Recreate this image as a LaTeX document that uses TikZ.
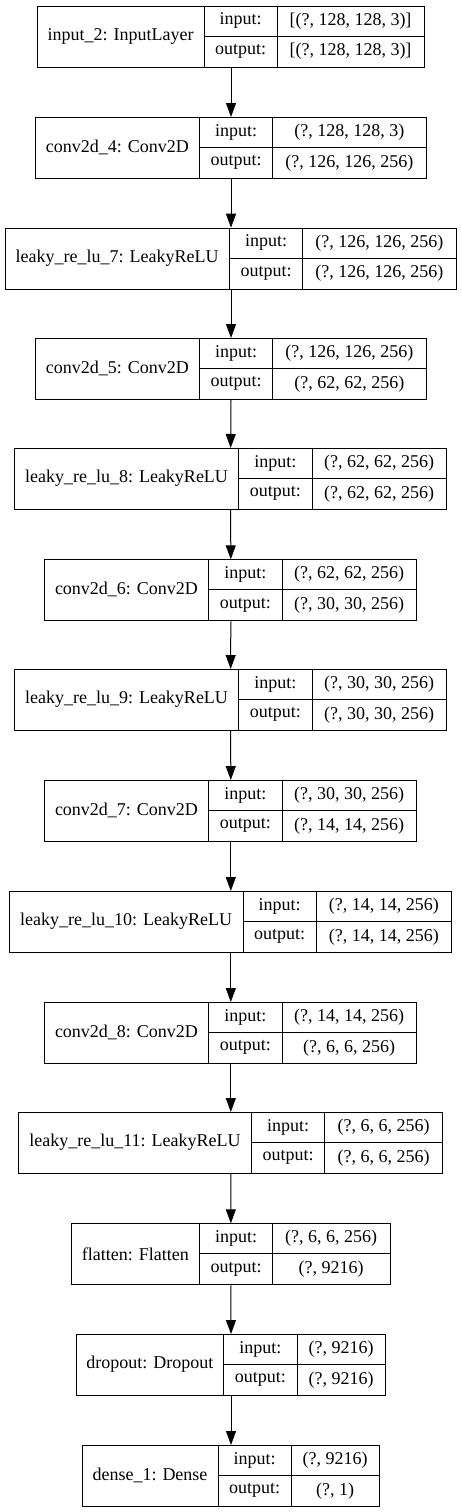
\documentclass[tikz,border=0pt]{standalone}
\usepackage{fontspec}
\setmainfont{Liberation Serif}
\usetikzlibrary{arrows.meta}
\tikzset{
  layerbox/.style={draw=black, line width=1pt, rectangle, inner sep=0pt, anchor=north west, minimum height=61pt},
  celltext/.style={inner sep=0pt, font=\fontsize{18}{20}\selectfont, text=black},
  divline/.style={draw=black, line width=1pt},
  flow/.style={draw=black, line width=1pt, -{Triangle[width=10pt,length=14pt]}}
}
% #1 name, #2 top, #3 left, #4 d1, #5 d2, #6 right, #7 label, #8 input, #9 output
\newcommand\kerasLayer[9]{%
  \node[layerbox, minimum width={#6pt-#3pt}] (#1) at (#3,#2) {};
  \draw[divline] (#4,#2) -- (#4,{#2+61});
  \draw[divline] (#5,#2) -- (#5,{#2+61});
  \draw[divline] (#4,{#2+30.5}) -- (#6,{#2+30.5});
  \node[celltext] (#1-name) at ({(#3+#4)/2},{#2+30.5}) {#7};
  \node[celltext] (#1-inl) at ({(#4+#5)/2},{#2+15.25}) {input:};
  \node[celltext] (#1-outl) at ({(#4+#5)/2},{#2+45.75}) {output:};
  \node[celltext] (#1-inv) at ({(#5+#6)/2},{#2+15.25}) {#8};
  \node[celltext] (#1-outv) at ({(#5+#6)/2},{#2+45.75}) {#9};
}
\begin{document}
\begin{tikzpicture}[x=1pt,y=-1pt]
\useasboundingbox (0,0) rectangle (461,1512);
\kerasLayer{b1}{5.7}{37}{204}{277}{424}{input\_2: InputLayer}{[(?, 128, 128, 3)]}{[(?, 128, 128, 3)]}
\kerasLayer{b2}{117}{35}{199.7}{272.7}{426}{conv2d\_4: Conv2D}{(?, 128, 128, 3)}{(?, 126, 126, 256)}
\kerasLayer{b3}{227.7}{5}{229.3}{302.7}{456}{leaky\_re\_lu\_7: LeakyReLU}{(?, 126, 126, 256)}{(?, 126, 126, 256)}
\kerasLayer{b4}{338}{35}{199.7}{272.7}{426}{conv2d\_5: Conv2D}{(?, 126, 126, 256)}{(?, 62, 62, 256)}
\kerasLayer{b5}{448}{14.3}{238.7}{312}{446}{leaky\_re\_lu\_8: LeakyReLU}{(?, 62, 62, 256)}{(?, 62, 62, 256)}
\kerasLayer{b6}{559.3}{44.3}{208.7}{282}{416.3}{conv2d\_6: Conv2D}{(?, 62, 62, 256)}{(?, 30, 30, 256)}
\kerasLayer{b7}{669}{14.3}{238.7}{312}{446}{leaky\_re\_lu\_9: LeakyReLU}{(?, 30, 30, 256)}{(?, 30, 30, 256)}
\kerasLayer{b8}{780}{44.3}{208.7}{282}{416.3}{conv2d\_7: Conv2D}{(?, 30, 30, 256)}{(?, 14, 14, 256)}
\kerasLayer{b9}{891}{9.3}{243}{316.3}{451.3}{leaky\_re\_lu\_10: LeakyReLU}{(?, 14, 14, 256)}{(?, 14, 14, 256)}
\kerasLayer{b10}{1002}{44.3}{208.7}{282}{416.3}{conv2d\_8: Conv2D}{(?, 14, 14, 256)}{(?, 6, 6, 256)}
\kerasLayer{b11}{1112}{18.3}{251.7}{324.7}{442.3}{leaky\_re\_lu\_11: LeakyReLU}{(?, 6, 6, 256)}{(?, 6, 6, 256)}
\kerasLayer{b12}{1223.3}{71}{199.7}{272.7}{389.7}{flatten: Flatten}{(?, 6, 6, 256)}{(?, 9216)}
\kerasLayer{b13}{1334}{76}{223.7}{297}{385}{dropout: Dropout}{(?, 9216)}{(?, 9216)}
\kerasLayer{b14}{1445}{82}{218}{291.3}{379}{dense\_1: Dense}{(?, 9216)}{(?, 1)}
\foreach \a/\b in {b1/b2,b2/b3,b3/b4,b4/b5,b5/b6,b6/b7,b7/b8,b8/b9,b9/b10,b10/b11,b11/b12,b12/b13,b13/b14}
  \draw[flow] (\a.south) -- (\b.north);
\end{tikzpicture}
\end{document}
